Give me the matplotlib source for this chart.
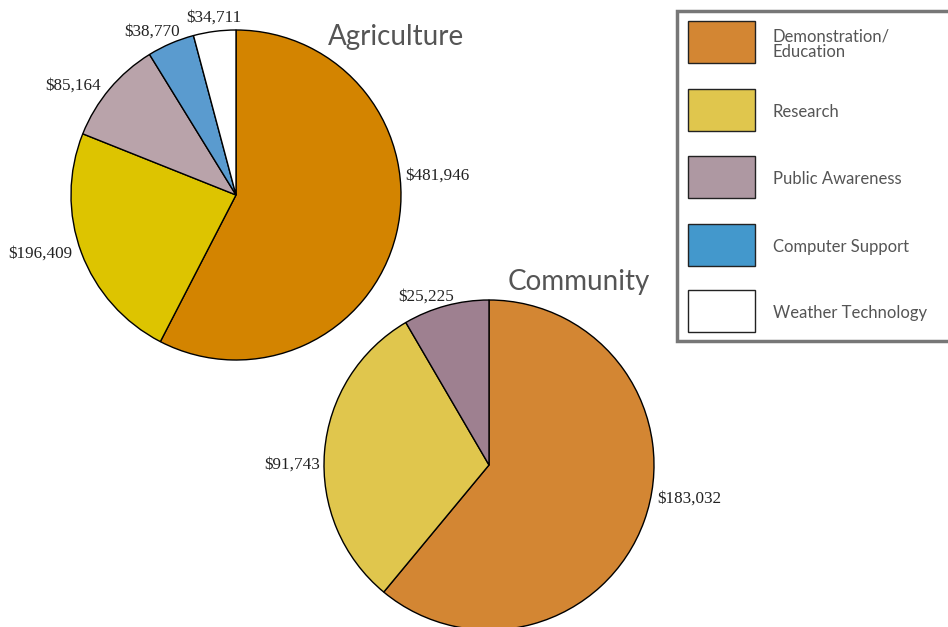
import matplotlib
matplotlib.use("Agg")
import matplotlib.pyplot as plt
from matplotlib.patches import Rectangle

categories = ["Demonstration/\nEducation", "Research", "Public Awareness",
              "Computer Support", "Weather Technology"]
agri_values = [481946, 196409, 85164, 38770, 34711]
agri_labels = ["$481,946", "$196,409", "$85,164", "$38,770", "$34,711"]
comm_values = [183032, 91743, 25225]
comm_labels = ["$183,032", "$91,743", "$25,225"]

agri_colors = ["#D38400", "#DDC400", "#B9A3AA", "#5A9BCF", "#FFFFFF"]
comm_colors = ["#D38633", "#E0C64D", "#9E8090"]
legend_colors = ["#D38633", "#E0C64D", "#AE98A2", "#4398CC", "#FFFFFF"]

W, H = 948, 627
fig = plt.figure(figsize=(W / 100, H / 100), dpi=100)
ax = fig.add_axes([0, 0, 1, 1])

def Y(y):
    return H - y

label_font = dict(family="Liberation Serif", fontsize=12.3, color="#222222")
sans = ["Lato", "DejaVu Sans"]

# Agriculture pie
wa, _ = ax.pie(agri_values, colors=agri_colors, startangle=90, counterclock=False,
               center=(236, Y(195)), radius=165,
               wedgeprops=dict(edgecolor="black", linewidth=1.0), frame=False)
# Community pie
wc, _ = ax.pie(comm_values, colors=comm_colors, startangle=90, counterclock=False,
               center=(489, Y(465)), radius=165,
               wedgeprops=dict(edgecolor="black", linewidth=1.0), frame=False)

# value labels
agri_pos = [(405, 176, "left"), (8, 254, "left"), (45, 86, "left"),
            (124, 32, "left"), (186, 18, "left")]
for (x, y, ha), t in zip(agri_pos, agri_labels):
    ax.text(x, Y(y), t, ha=ha, va="center", **label_font)
comm_pos = [(657, 499, "left"), (264, 465, "left"), (398, 297, "left")]
for (x, y, ha), t in zip(comm_pos, comm_labels):
    ax.text(x, Y(y), t, ha=ha, va="center", **label_font)

# titles
ax.text(328, Y(37), "Agriculture", ha="left", va="center", family=sans,
        fontsize=20, color="#555555")
ax.text(508, Y(282), "Community", ha="left", va="center", family=sans,
        fontsize=20, color="#555555")

# legend
ax.add_patch(Rectangle((677, Y(341)), 290, 330, facecolor="white",
                       edgecolor="#777777", linewidth=2.5, zorder=3))
box_tops = [21, 89, 156, 224, 290]
for top, col, lab in zip(box_tops, legend_colors, categories):
    ax.add_patch(Rectangle((688, Y(top + 42)), 67, 42, facecolor=col,
                           edgecolor="#222222", linewidth=1.0, zorder=4))
    ax.text(773, Y(top + 23), lab, ha="left", va="center", family=sans,
            fontsize=12, color="#555555", zorder=5, linespacing=1.0)

ax.set_xlim(0, W)
ax.set_ylim(0, H)
ax.set_aspect("auto")
ax.axis("off")
fig.savefig("out.png", dpi=100)
